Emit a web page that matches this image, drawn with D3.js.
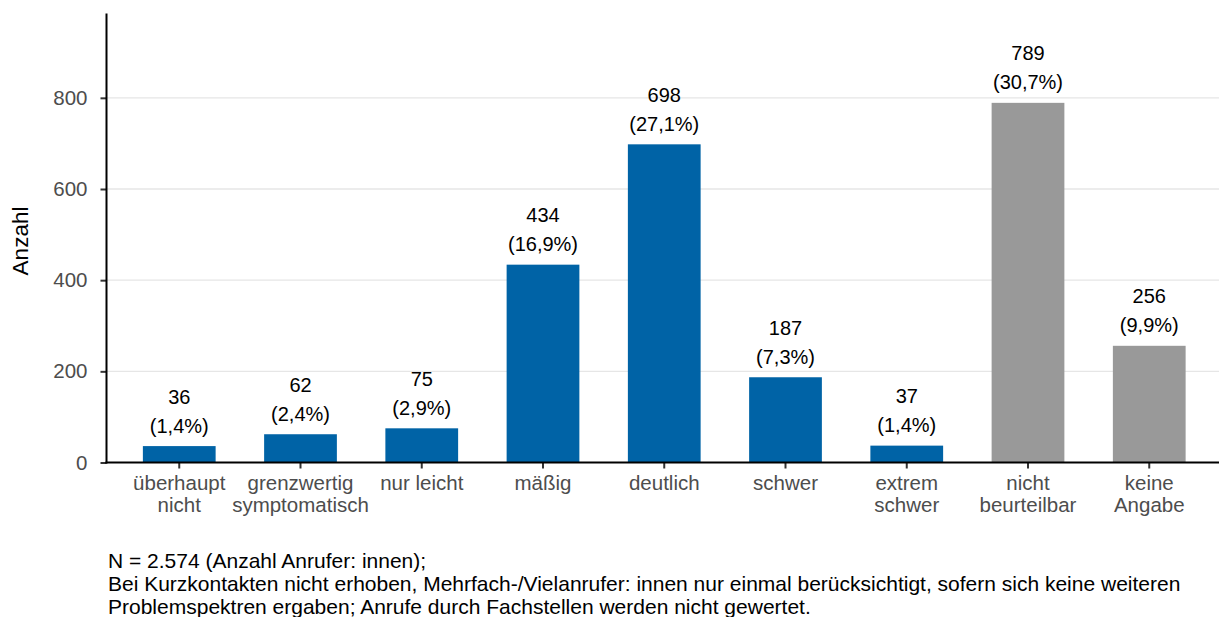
<!DOCTYPE html>
<html>
<head>
<meta charset="utf-8">
<script src="https://cdn.jsdelivr.net/npm/d3@7"></script>
<style>
  html, body { margin: 0; padding: 0; background: #fff; }
  svg { display: block; font-family: "Liberation Sans", Arial, sans-serif; }
</style>
</head>
<body>
<svg id="chart" width="1219" height="617"></svg>
<script>
const categories = ["überhaupt\nnicht", "grenzwertig\nsymptomatisch", "nur leicht", "mäßig", "deutlich", "schwer", "extrem\nschwer", "nicht\nbeurteilbar", "keine\nAngabe"];
const values = [36, 62, 75, 434, 698, 187, 37, 789, 256];
const percents = ["1,4", "2,4", "2,9", "16,9", "27,1", "7,3", "1,4", "30,7", "9,9"];
const groups = ["rated", "rated", "rated", "rated", "rated", "rated", "rated", "unrated", "unrated"];
const yTicks = [0, 200, 400, 600, 800];
const yTitle = "Anzahl";
const footnote = [
  "N = 2.574 (Anzahl Anrufer: innen);",
  "Bei Kurzkontakten nicht erhoben, Mehrfach-/Vielanrufer: innen nur einmal berücksichtigt, sofern sich keine weiteren",
  "Problemspektren ergaben; Anrufe durch Fachstellen werden nicht gewertet."
];

(function () {
const svg = d3.select("#chart");
const pLeft = 106.5, pRight = 1222, pTop = 13.5, pBottom = 462.5;

const x = d3.scaleBand().domain(categories).range([pLeft, pRight]).paddingInner(0.4).paddingOuter(0.3);
const y = d3.scaleLinear().domain([0, 985]).range([pBottom, pTop]);
const color = d3.scaleOrdinal().domain(["rated", "unrated"]).range(["#0063a6", "#999999"]);

const data = categories.map((c, i) => ({ c, v: values[i], p: percents[i], g: groups[i] }));

// gridlines
svg.append("g").selectAll("line").data(yTicks.filter(t => t > 0)).join("line")
  .attr("x1", pLeft).attr("x2", 1219)
  .attr("y1", d => y(d)).attr("y2", d => y(d))
  .attr("stroke", "#e6e6e6").attr("stroke-width", 1.3);

// bars
svg.append("g").selectAll("rect").data(data).join("rect")
  .attr("x", d => x(d.c)).attr("width", x.bandwidth())
  .attr("y", d => y(d.v)).attr("height", d => y(0) - y(d.v))
  .attr("fill", d => color(d.g));

// bar labels
const lbl = svg.append("g").selectAll("g").data(data).join("g")
  .attr("transform", d => `translate(${x(d.c) + x.bandwidth() / 2},${y(d.v)})`);
lbl.append("text").attr("text-anchor", "middle").attr("y", -42.5)
  .attr("font-size", 20).attr("fill", "#000").text(d => d.v);
lbl.append("text").attr("text-anchor", "middle").attr("y", -13.5)
  .attr("font-size", 20).attr("fill", "#000").text(d => `(${d.p}%)`);

// y axis
const yAxis = svg.append("g").attr("transform", `translate(${pLeft},0)`)
  .call(d3.axisLeft(y).tickValues(yTicks).tickSize(6).tickPadding(13).tickFormat(d3.format("d")));
yAxis.select(".domain").remove();
yAxis.selectAll(".tick line").attr("stroke", "#333").attr("stroke-width", 2);
yAxis.selectAll(".tick text").attr("font-size", 20.5).attr("fill", "#4d4d4d")
  .attr("font-family", "Liberation Sans, Arial, sans-serif");

// x axis
const xAxis = svg.append("g").attr("transform", `translate(0,${pBottom})`)
  .call(d3.axisBottom(x).tickSize(6).tickFormat(""));
xAxis.select(".domain").remove();
xAxis.selectAll(".tick line").attr("stroke", "#333").attr("stroke-width", 2);
xAxis.selectAll(".tick").append("text").attr("text-anchor", "middle")
  .attr("font-size", 20.5).attr("fill", "#4d4d4d")
  .attr("font-family", "Liberation Sans, Arial, sans-serif")
  .selectAll("tspan").data(d => d.split("\n")).join("tspan")
  .attr("x", 0).attr("y", (d, i) => 27.5 + i * 22).text(d => d);

// axis lines
svg.append("line").attr("x1", pLeft).attr("x2", pLeft).attr("y1", pTop).attr("y2", pBottom + 1)
  .attr("stroke", "#000").attr("stroke-width", 2);
svg.append("line").attr("x1", pLeft - 1).attr("x2", 1219).attr("y1", pBottom).attr("y2", pBottom)
  .attr("stroke", "#000").attr("stroke-width", 2);

// y title
svg.append("text").attr("transform", `translate(28,241) rotate(-90)`)
  .attr("text-anchor", "middle").attr("font-size", 22.5).attr("fill", "#000").text(yTitle);

// footnote
svg.append("g").selectAll("text").data(footnote).join("text")
  .attr("x", 108).attr("y", (d, i) => 567.5 + i * 23)
  .attr("font-size", 21).attr("fill", "#000").text(d => d);
})();
</script>
</body>
</html>
